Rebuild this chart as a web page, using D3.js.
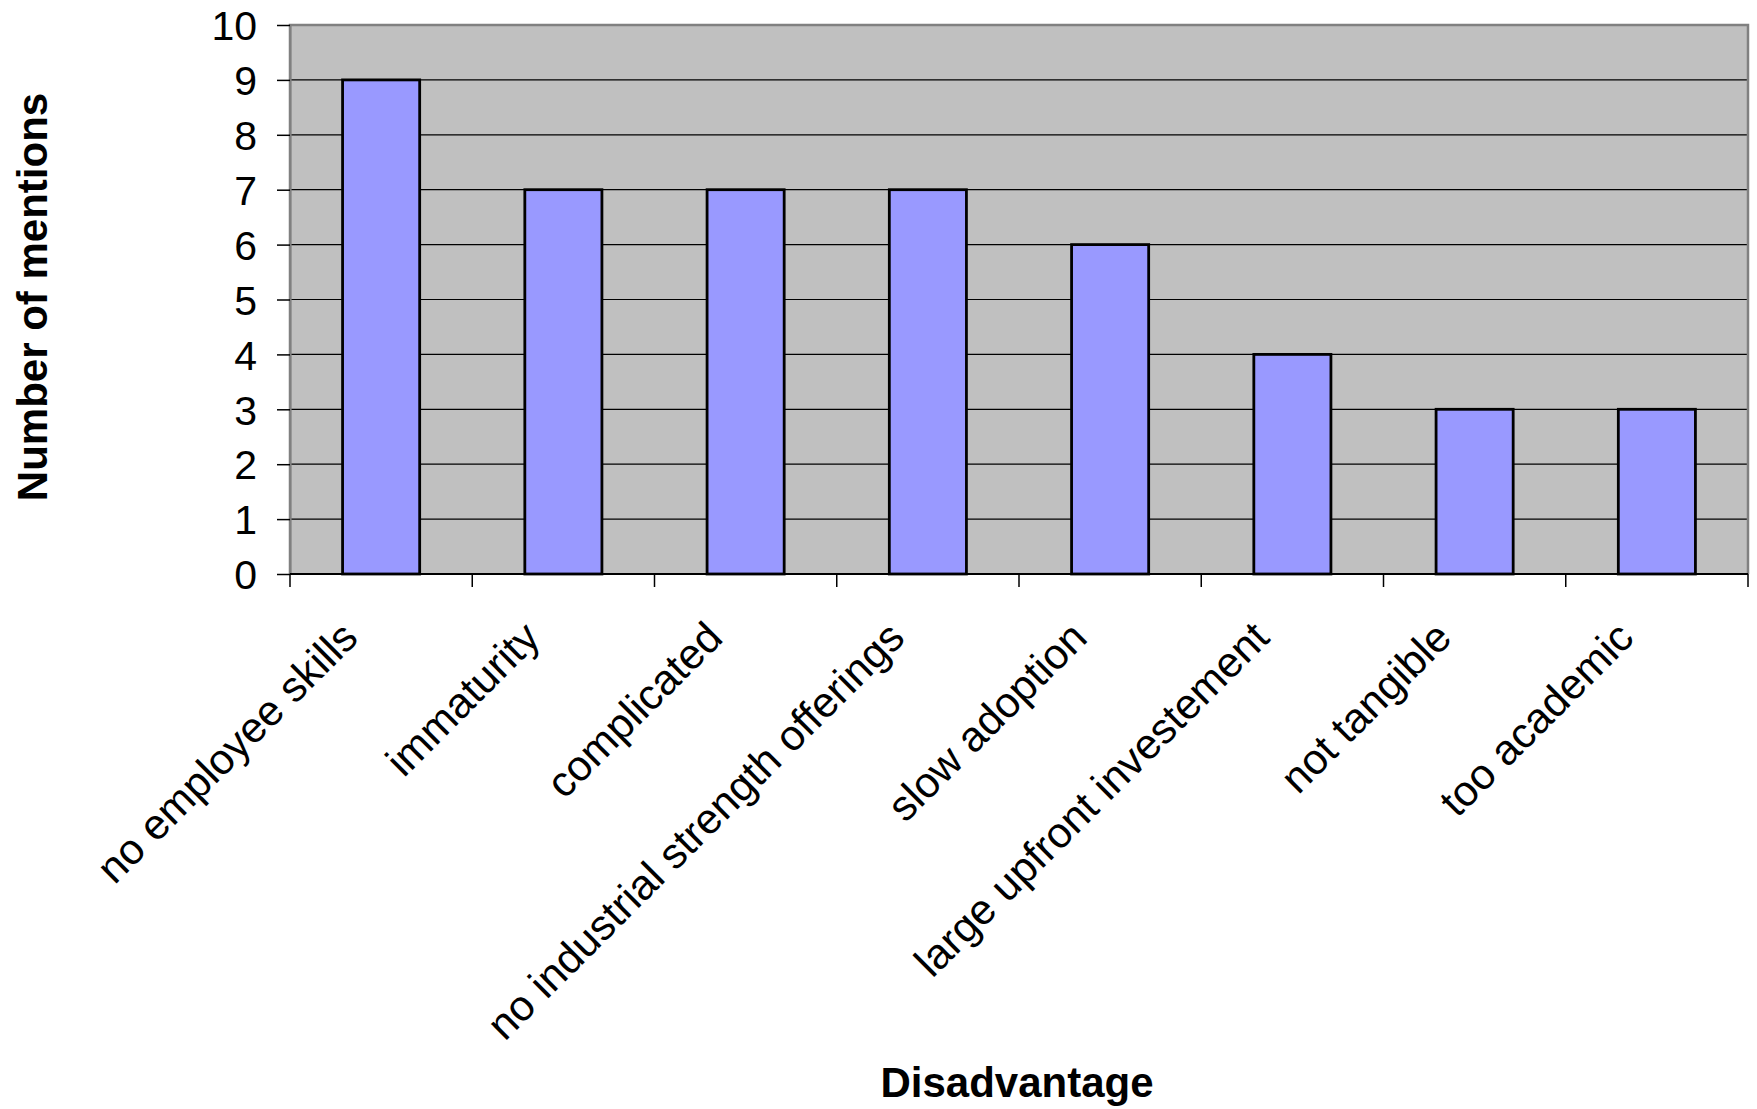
<!DOCTYPE html>
<html>
<head>
<meta charset="utf-8">
<script src="https://cdn.jsdelivr.net/npm/d3@7"></script>
<style>
  html, body { margin: 0; padding: 0; background: #fff; }
  svg { display: block; }
  text { font-family: "Liberation Sans", Arial, sans-serif; fill: #000; }
</style>
</head>
<body>
<svg id="chart" width="1757" height="1109"></svg>
<script>
// Survey results: disadvantages named by respondents
const categories = [
  "no employee skills",
  "immaturity",
  "complicated",
  "no industrial strength offerings",
  "slow adoption",
  "large upfront investement",
  "not tangible",
  "too academic"
];
const mentions = [9, 7, 7, 7, 6, 4, 3, 3];
const yTicks = [0, 1, 2, 3, 4, 5, 6, 7, 8, 9, 10];
const xTitle = "Disadvantage";
const yTitle = "Number of mentions";

const svg = d3.select("#chart");
const plot = { left: 290, top: 25, right: 1748, bottom: 574 };

const x = d3.scaleBand()
  .domain(categories)
  .range([plot.left, plot.right])
  .paddingInner(0.577)
  .paddingOuter(0.2885);

const y = d3.scaleLinear()
  .domain([0, 10])
  .range([plot.bottom, plot.top]);

// plot area background
svg.append("rect")
  .attr("x", plot.left).attr("y", plot.top)
  .attr("width", plot.right - plot.left)
  .attr("height", plot.bottom - plot.top)
  .attr("fill", "#c0c0c0");

// horizontal gridlines
svg.append("g")
  .selectAll("line")
  .data(yTicks.filter(d => d > 0 && d < 10))
  .join("line")
  .attr("x1", plot.left).attr("x2", plot.right)
  .attr("y1", d => y(d)).attr("y2", d => y(d))
  .attr("stroke", "#000").attr("stroke-width", 1.2);

// plot border (grey frame on top, right and left)
svg.append("path")
  .attr("d", `M${plot.left},${plot.bottom} V${plot.top} H${plot.right} V${plot.bottom}`)
  .attr("fill", "none")
  .attr("stroke", "#808080")
  .attr("stroke-width", 2.5);

// bars
svg.append("g")
  .selectAll("rect")
  .data(mentions)
  .join("rect")
  .attr("x", (d, i) => x(categories[i]))
  .attr("y", d => y(d))
  .attr("width", x.bandwidth())
  .attr("height", d => y(0) - y(d))
  .attr("fill", "#9999ff")
  .attr("stroke", "#000")
  .attr("stroke-width", 2.8);

// y axis
const yAxis = d3.axisLeft(y)
  .tickValues(yTicks)
  .tickFormat(d3.format("d"))
  .tickSizeInner(13)
  .tickSizeOuter(0)
  .tickPadding(20);

const gy = svg.append("g")
  .attr("transform", `translate(${plot.left},0)`)
  .call(yAxis);
gy.select(".domain").attr("stroke", "#808080").attr("stroke-width", 2);
gy.selectAll(".tick line").attr("stroke", "#000").attr("stroke-width", 1.5);
gy.selectAll(".tick text")
  .attr("font-size", 41)
  .attr("font-family", "Liberation Sans, Arial, sans-serif")
  .attr("dy", "0.36em");

// x axis: baseline plus ticks between categories
svg.append("line")
  .attr("x1", plot.left).attr("x2", plot.right)
  .attr("y1", plot.bottom).attr("y2", plot.bottom)
  .attr("stroke", "#000").attr("stroke-width", 2);

const boundaries = categories.map(c => x(c) - x.step() * x.paddingInner() / 2);
boundaries[0] = plot.left;
boundaries.push(plot.right);
svg.append("g")
  .selectAll("line")
  .data(boundaries)
  .join("line")
  .attr("x1", d => d).attr("x2", d => d)
  .attr("y1", plot.bottom).attr("y2", plot.bottom + 13)
  .attr("stroke", "#000").attr("stroke-width", 1.5);

// rotated category labels
svg.append("g")
  .selectAll("text")
  .data(categories)
  .join("text")
  .attr("transform", d => `translate(${x(d) + x.bandwidth() / 2 - 21},${plot.bottom + 66}) rotate(-45)`)
  .attr("text-anchor", "end")
  .attr("font-size", 42.5)
  .text(d => d);

// axis titles
svg.append("text")
  .attr("x", 1017).attr("y", 1097)
  .attr("text-anchor", "middle")
  .attr("font-size", 42)
  .attr("font-weight", "bold")
  .text(xTitle);

svg.append("text")
  .attr("transform", "translate(47,297) rotate(-90)")
  .attr("text-anchor", "middle")
  .attr("font-size", 42)
  .attr("font-weight", "bold")
  .text(yTitle);
</script>
</body>
</html>
